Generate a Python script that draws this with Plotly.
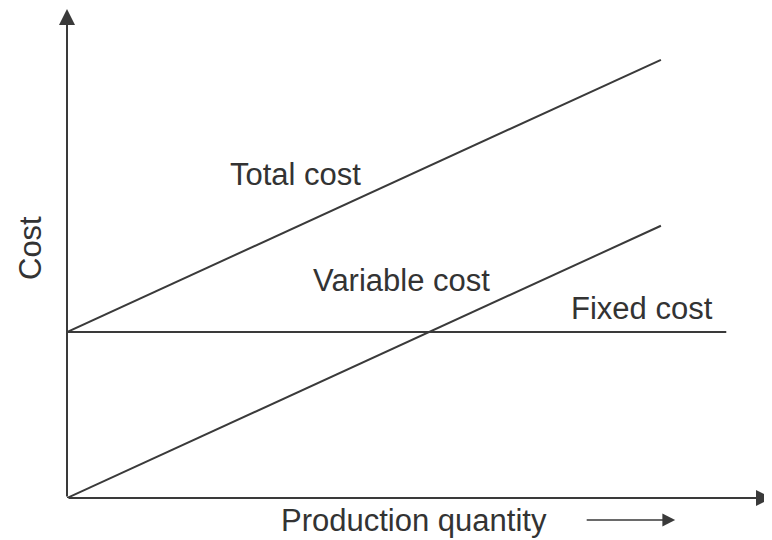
import plotly.graph_objects as go

# Data (arbitrary units)
quantity = [0, 10]
fixed_x = [0, 11.1]
fixed_cost = [50, 50]
variable_cost = [0, 82]
total_cost = [50, 132]

line_color = "#3a3a3a"
font = dict(family="Liberation Sans, Arial, sans-serif", size=31, color="#333333")

fig = go.Figure()
fig.add_trace(go.Scatter(x=fixed_x, y=fixed_cost, mode="lines",
                         line=dict(color=line_color, width=2), cliponaxis=False))
fig.add_trace(go.Scatter(x=quantity, y=variable_cost, mode="lines",
                         line=dict(color=line_color, width=2), cliponaxis=False))
fig.add_trace(go.Scatter(x=quantity, y=total_cost, mode="lines",
                         line=dict(color=line_color, width=2), cliponaxis=False))

XMAX = 11.87
YMAX = 147.3

ann = []
# axes with arrows
ann.append(dict(x=0, y=YMAX, ax=0, ay=0, xref="x", yref="y", axref="x", ayref="y",
                showarrow=True, arrowhead=2, arrowsize=1.6, arrowwidth=2,
                arrowcolor=line_color, text=""))
ann.append(dict(x=XMAX, y=0, ax=0, ay=0, xref="x", yref="y", axref="x", ayref="y",
                showarrow=True, arrowhead=2, arrowsize=1.6, arrowwidth=2,
                arrowcolor=line_color, text=""))
# production quantity arrow
ann.append(dict(x=10.24, y=-0.045, ax=-90, ay=0, xref="x", yref="paper",
                showarrow=True, arrowhead=2, arrowsize=1.6, arrowwidth=1.6,
                arrowcolor=line_color, text=""))
# labels
labels = [
    ("Total cost", 3.84, 97.5),
    ("Variable cost", 5.64, 65.5),
    ("Fixed cost", 9.68, 57.0),
]
for t, x, y in labels:
    ann.append(dict(x=x, y=y, xref="x", yref="y", text=t, showarrow=False,
                    font=font, xanchor="center", yanchor="middle"))
ann.append(dict(x=5.84, y=-0.045, xref="x", yref="paper", text="Production quantity",
                showarrow=False, font=font, xanchor="center", yanchor="middle"))
ann.append(dict(x=-0.0525, y=75.3, xref="paper", yref="y", text="Cost", showarrow=False,
                font=font, xanchor="center", yanchor="middle", textangle=-90))

fig.update_layout(
    width=764, height=532,
    margin=dict(l=59, r=0, t=1, b=42),
    paper_bgcolor="white", plot_bgcolor="white",
    showlegend=False,
    annotations=ann,
    xaxis=dict(range=[0, XMAX], visible=False, fixedrange=True),
    yaxis=dict(range=[0, YMAX], visible=False, fixedrange=True),
)

fig.write_html("out.html")
